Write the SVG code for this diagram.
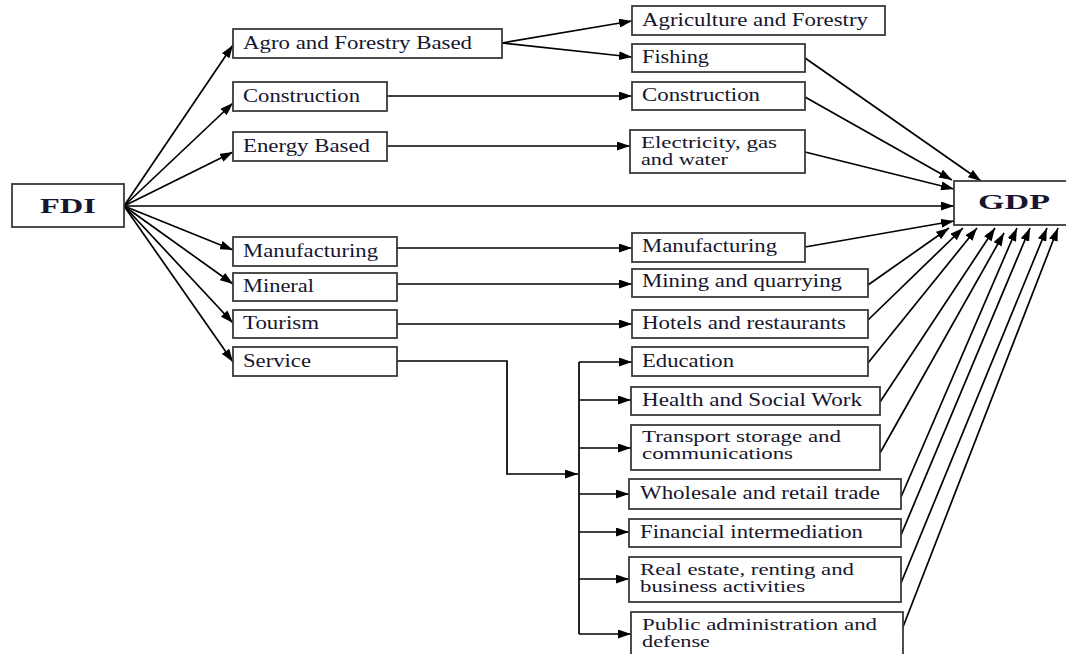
<svg xmlns="http://www.w3.org/2000/svg" width="1066" height="654" viewBox="0 0 1066 654">
<defs>
<marker id="ah" markerWidth="13" markerHeight="9" refX="13" refY="4.5" orient="auto" markerUnits="userSpaceOnUse"><path d="M0,0 L13,4.5 L0,9 z" fill="#000"/></marker>
<style>
.box{fill:#fff;stroke:#3a3a3a;stroke-width:1.8}
.t{font-family:"Liberation Serif","Times New Roman",serif;font-size:18px;fill:#16162e}
.t2{font-family:"Liberation Serif","Times New Roman",serif;font-size:16px;fill:#16162e}
.b{font-family:"Liberation Serif","Times New Roman",serif;font-size:22px;font-weight:bold;fill:#16162e}
.c line,.c polyline{stroke:#000;stroke-width:1.7;fill:none}
.a{marker-end:url(#ah)}
</style>
</defs>
<rect width="1066" height="654" fill="#fff"/>
<g class="c">
<line class="a" x1="124" y1="206" x2="233" y2="45"/>
<line class="a" x1="124" y1="206" x2="233" y2="103"/>
<line class="a" x1="124" y1="206" x2="233" y2="152"/>
<line class="a" x1="124" y1="206" x2="954" y2="206"/>
<line class="a" x1="124" y1="206" x2="233" y2="250"/>
<line class="a" x1="124" y1="206" x2="233" y2="284"/>
<line class="a" x1="124" y1="206" x2="233" y2="323"/>
<line class="a" x1="124" y1="206" x2="233" y2="362"/>
<line class="a" x1="502" y1="43" x2="632" y2="21"/>
<line class="a" x1="502" y1="43" x2="632" y2="57"/>
<line class="a" x1="387" y1="96" x2="632" y2="96"/>
<line class="a" x1="387" y1="146" x2="630" y2="146"/>
<line class="a" x1="397" y1="248" x2="632" y2="248"/>
<line class="a" x1="397" y1="284" x2="632" y2="284"/>
<line class="a" x1="397" y1="324" x2="632" y2="324"/>
<polyline class="a" points="397,361 507,361 507,474 578,474"/>
<line x1="579" y1="362" x2="579" y2="634"/>
<line class="a" x1="579" y1="362" x2="632" y2="362"/>
<line class="a" x1="579" y1="400" x2="631" y2="400"/>
<line class="a" x1="579" y1="448" x2="631" y2="448"/>
<line class="a" x1="579" y1="494" x2="629" y2="494"/>
<line class="a" x1="579" y1="532" x2="629" y2="532"/>
<line class="a" x1="579" y1="579" x2="629" y2="579"/>
<line class="a" x1="579" y1="634" x2="631" y2="634"/>
<line class="a" x1="805" y1="58" x2="981" y2="181"/>
<line class="a" x1="805" y1="97" x2="952" y2="180"/>
<line class="a" x1="805" y1="152" x2="954" y2="189"/>
<line class="a" x1="805" y1="247" x2="954" y2="221"/>
<line class="a" x1="868" y1="285" x2="949" y2="228"/>
<line class="a" x1="868" y1="320" x2="963" y2="228"/>
<line class="a" x1="868" y1="363" x2="977" y2="228"/>
<line class="a" x1="880" y1="402" x2="995" y2="228"/>
<line class="a" x1="880" y1="453" x2="1004" y2="233"/>
<line class="a" x1="901" y1="497" x2="1017" y2="228"/>
<line class="a" x1="901" y1="535" x2="1030" y2="228"/>
<line class="a" x1="901" y1="583" x2="1047" y2="228"/>
<line class="a" x1="903" y1="627" x2="1058" y2="228"/>
</g>
<g id="fdi"><rect class="box" x="12" y="184" width="112" height="43"/><text class="b" x="40" y="213" textLength="56" lengthAdjust="spacingAndGlyphs">FDI</text></g>
<g id="gdp"><rect class="box" x="954" y="181" width="118" height="44"/><text class="b" x="978" y="209" textLength="72" lengthAdjust="spacingAndGlyphs">GDP</text></g>
<g id="agro"><rect class="box" x="233" y="29" width="269" height="29"/><text class="t" x="243" y="49" textLength="229" lengthAdjust="spacingAndGlyphs">Agro and Forestry Based</text></g>
<g id="constr-l"><rect class="box" x="233" y="82" width="154" height="29"/><text class="t" x="243" y="102" textLength="117" lengthAdjust="spacingAndGlyphs">Construction</text></g>
<g id="energy"><rect class="box" x="233" y="132" width="154" height="29"/><text class="t" x="243" y="152" textLength="127" lengthAdjust="spacingAndGlyphs">Energy Based</text></g>
<g id="manuf-l"><rect class="box" x="233" y="237" width="164" height="29"/><text class="t" x="243" y="257" textLength="135" lengthAdjust="spacingAndGlyphs">Manufacturing</text></g>
<g id="mineral"><rect class="box" x="233" y="273" width="164" height="28"/><text class="t" x="243" y="292" textLength="71" lengthAdjust="spacingAndGlyphs">Mineral</text></g>
<g id="tourism"><rect class="box" x="233" y="310" width="164" height="28"/><text class="t" x="243" y="329" textLength="76" lengthAdjust="spacingAndGlyphs">Tourism</text></g>
<g id="service"><rect class="box" x="233" y="347" width="164" height="29"/><text class="t" x="243" y="367" textLength="68" lengthAdjust="spacingAndGlyphs">Service</text></g>
<g id="agri"><rect class="box" x="632" y="6" width="253" height="29"/><text class="t" x="642" y="26" textLength="226" lengthAdjust="spacingAndGlyphs">Agriculture and Forestry</text></g>
<g id="fishing"><rect class="box" x="632" y="44" width="173" height="28"/><text class="t" x="642" y="63" textLength="67" lengthAdjust="spacingAndGlyphs">Fishing</text></g>
<g id="constr-r"><rect class="box" x="632" y="82" width="173" height="28"/><text class="t" x="642" y="101" textLength="118" lengthAdjust="spacingAndGlyphs">Construction</text></g>
<g id="elec"><rect class="box" x="630" y="130" width="175" height="43"/><text class="t2" x="641" y="148" textLength="136" lengthAdjust="spacingAndGlyphs">Electricity, gas</text><text class="t2" x="641" y="165" textLength="87" lengthAdjust="spacingAndGlyphs">and water</text></g>
<g id="manuf-r"><rect class="box" x="632" y="233" width="173" height="29"/><text class="t" x="642" y="252" textLength="135" lengthAdjust="spacingAndGlyphs">Manufacturing</text></g>
<g id="mining"><rect class="box" x="632" y="269" width="236" height="28"/><text class="t" x="642" y="287" textLength="200" lengthAdjust="spacingAndGlyphs">Mining and quarrying</text></g>
<g id="hotels"><rect class="box" x="632" y="310" width="236" height="28"/><text class="t" x="642" y="329" textLength="204" lengthAdjust="spacingAndGlyphs">Hotels and restaurants</text></g>
<g id="education"><rect class="box" x="632" y="347" width="236" height="29"/><text class="t" x="642" y="367" textLength="92" lengthAdjust="spacingAndGlyphs">Education</text></g>
<g id="health"><rect class="box" x="631" y="387" width="249" height="28"/><text class="t" x="642" y="406" textLength="220" lengthAdjust="spacingAndGlyphs">Health and Social Work</text></g>
<g id="transport"><rect class="box" x="631" y="425" width="249" height="45"/><text class="t2" x="642" y="442" textLength="199" lengthAdjust="spacingAndGlyphs">Transport storage and</text><text class="t2" x="642" y="459" textLength="151" lengthAdjust="spacingAndGlyphs">communications</text></g>
<g id="wholesale"><rect class="box" x="629" y="479" width="272" height="30"/><text class="t" x="640" y="499" textLength="240" lengthAdjust="spacingAndGlyphs">Wholesale and retail trade</text></g>
<g id="financial"><rect class="box" x="629" y="519" width="272" height="28"/><text class="t" x="640" y="538" textLength="223" lengthAdjust="spacingAndGlyphs">Financial intermediation</text></g>
<g id="realestate"><rect class="box" x="629" y="557" width="272" height="45"/><text class="t2" x="640" y="575" textLength="214" lengthAdjust="spacingAndGlyphs">Real estate, renting and</text><text class="t2" x="640" y="592" textLength="165" lengthAdjust="spacingAndGlyphs">business activities</text></g>
<g id="public"><rect class="box" x="631" y="612" width="272" height="50"/><text class="t2" x="642" y="630" textLength="235" lengthAdjust="spacingAndGlyphs">Public administration and</text><text class="t2" x="642" y="647" textLength="68" lengthAdjust="spacingAndGlyphs">defense</text></g>
</svg>
